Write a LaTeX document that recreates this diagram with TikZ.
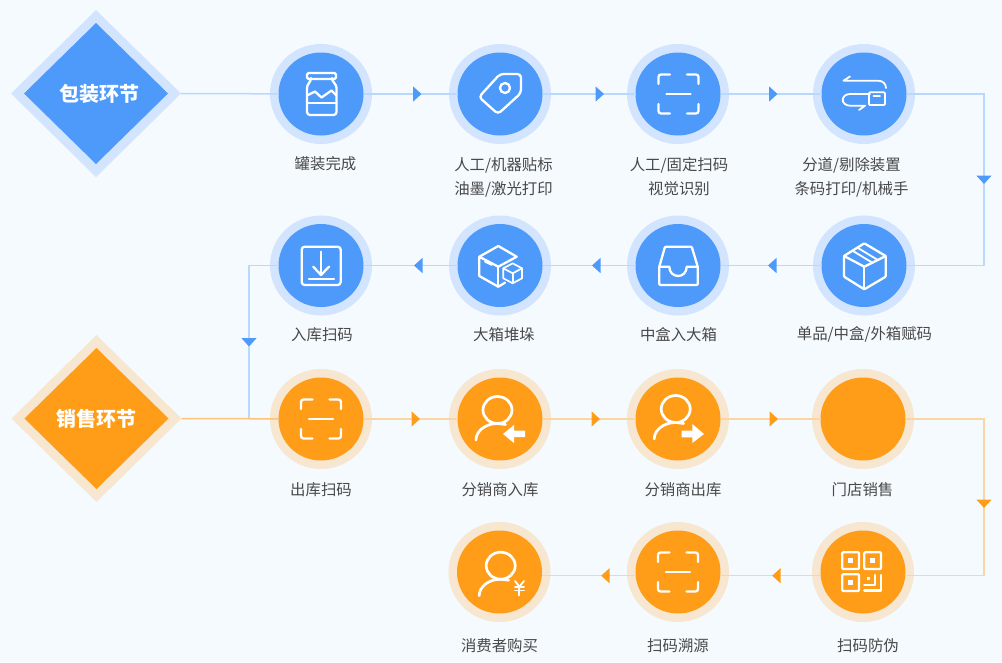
\documentclass[tikz,border=0pt]{standalone}
\usepackage{fontspec}
\setmainfont{Noto Sans CJK SC}
\usetikzlibrary{arrows.meta,shapes.geometric,decorations.markings}
\definecolor{pagebg}{HTML}{F5FAFF}
\definecolor{myblue}{HTML}{4D9AFB}
\definecolor{ringblue}{HTML}{D3E5FE}
\definecolor{lineblue}{HTML}{B9D8FE}
\definecolor{myorange}{HTML}{FF9D19}
\definecolor{ringorange}{HTML}{F7E6D0}
\definecolor{lineorange}{HTML}{FBD5A4}
\definecolor{textgray}{HTML}{484848}

\begin{document}
\begin{tikzpicture}[x=1pt,y=-1pt]
		\tikzset{bluedisc/.style={ellipse,fill=myblue,minimum width=85pt,minimum height=83pt,inner sep=0pt,outer sep=0pt,preaction={draw=ringblue,line width=17pt}}} %step circles
		\tikzset{orangedisc/.style={ellipse,fill=myorange,minimum width=85pt,minimum height=83pt,inner sep=0pt,outer sep=0pt,preaction={draw=ringorange,line width=17pt}}}
		\tikzset{phaseout/.style={diamond,aspect=1,inner sep=0pt,outer sep=0pt,minimum width=170pt,minimum height=167pt}} %phase diamonds
		\tikzset{phasein/.style={diamond,aspect=1,inner sep=0pt,outer sep=0pt,minimum width=144pt,minimum height=141pt,text=white,font=\fontsize{20}{24}\selectfont\bfseries}}
		\tikzset{steptext/.style={align=center,text=textgray,inner sep=0pt,font=\fontsize{15.4}{24}\selectfont}}
		\tikzset{blueline/.style={draw=lineblue,line width=1.5pt}}
		\tikzset{orangeline/.style={draw=lineorange,line width=1.5pt}}
		\tikzset{bluetip/.style={postaction={decorate,decoration={markings,mark=at position #1 with {\arrow{Triangle[length=8.5pt,width=15pt,color=myblue,fill=myblue]}}}}}}
		\tikzset{orangetip/.style={postaction={decorate,decoration={markings,mark=at position #1 with {\arrow{Triangle[length=8.5pt,width=15pt,color=myorange,fill=myorange]}}}}}}
		\tikzset{iconline/.style={draw=white,line width=2.3pt,line cap=round,line join=round}}
		\tikzset{scanicon/.pic={
			\draw[iconline,rounded corners=2.5pt] (-8.5,-19.5) -- (-20,-19.5) -- (-20,-10);
			\draw[iconline,rounded corners=2.5pt] (8.5,-19.5) -- (20,-19.5) -- (20,-10);
			\draw[iconline,rounded corners=2.5pt] (-8.5,19.5) -- (-20,19.5) -- (-20,10);
			\draw[iconline,rounded corners=2.5pt] (8.5,19.5) -- (20,19.5) -- (20,10);
			\draw[iconline] (-12,0) -- (12,0);
		}}
		\tikzset{personicon/.pic={
			\draw[iconline,line width=2.7pt] (0,0) circle[x radius=14.5,y radius=13.5];
			\draw[iconline,line width=2.7pt] (-21.5,30) .. controls (-21.5,21) and (-12,13.5) .. (0,13.5) -- (8,14.5);
		}}
		\fill[pagebg] (0,0) rectangle (1002,662); %background
		\useasboundingbox (0,0) rectangle (1002,662);

		\node[phaseout,fill=ringblue] (packring) at (96,93.5) {}; %packing phase
		\node[phasein,fill=myblue] (pack) at (96,93.5) {\hspace*{6pt}包装环节};
		\node[phaseout,fill=ringorange] (salering) at (96.5,418.5) {}; %sales phase
		\node[phasein,fill=myorange] (sale) at (96.5,418.5) {销售环节};

		\node[bluedisc] (jar) at (321,94) {}; %first row
		\node[bluedisc] (tag) at (500,94) {};
		\node[bluedisc] (scan) at (678,94) {};
		\node[bluedisc] (sort) at (864,94) {};
		\node[bluedisc] (box) at (864,265.5) {}; %second row
		\node[bluedisc] (inbox) at (678,265.5) {};
		\node[bluedisc] (stack) at (500,265.5) {};
		\node[bluedisc] (storein) at (321,265.5) {};
		\node[orangedisc] (storeout) at (321,419) {}; %third row
		\node[orangedisc] (agentin) at (500,419) {};
		\node[orangedisc] (agentout) at (678,419) {};
		\node[orangedisc] (shop) at (863,419) {};
		\node[orangedisc] (qrcheck) at (863,572) {}; %fourth row
		\node[orangedisc] (trace) at (678,572) {};
		\node[orangedisc] (buyer) at (499.5,572) {};

		\node[steptext] (jarlabel) at (325.5,163.5) {罐装完成};
		\node[steptext,anchor=north] (taglabel) at (503.5,157) {人工/机器贴标\\油墨/激光打印};
		\node[steptext,anchor=north] (scanlabel) at (679,157) {人工/固定扫码\\视觉识别};
		\node[steptext,anchor=north] (sortlabel) at (851.5,157) {分道/剔除装置\\条码打印/机械手};
		\node[steptext] (boxlabel) at (864.5,334.5) {单品/中盒/外箱赋码};
		\node[steptext] (inboxlabel) at (678.5,334.5) {中盒入大箱};
		\node[steptext] (stacklabel) at (504,334.5) {大箱堆垛};
		\node[steptext] (storeinlabel) at (322,334.5) {入库扫码};
		\node[steptext] (storeoutlabel) at (321,489.5) {出库扫码};
		\node[steptext] (agentinlabel) at (500,489.5) {分销商入库};
		\node[steptext] (agentoutlabel) at (683,489.5) {分销商出库};
		\node[steptext] (shoplabel) at (862.5,489.5) {门店销售};
		\node[steptext] (qrlabel) at (868,645.5) {扫码防伪};
		\node[steptext] (tracelabel) at (678,645.5) {扫码溯源};
		\node[steptext] (buyerlabel) at (499.5,645.5) {消费者购买};

		\coordinate (packturn) at (984,180); %corners of the flow
		\coordinate (storeturn) at (249,419);
		\coordinate (saleturn) at (984,500);

		\draw[blueline] (packring.east) -- (jar);
		\draw[blueline,bluetip=58pt] (jar) -- (tag);
		\draw[blueline,bluetip=61.5pt] (tag) -- (scan);
		\draw[blueline,bluetip=57pt] (scan) -- (sort);
		\draw[blueline,bluetip=167.5pt] (sort) -| (packturn) |- (box);
		\draw[blueline,bluetip=53.5pt] (box) -- (inbox);
		\draw[blueline,bluetip=43.5pt] (inbox) -- (stack);
		\draw[blueline,bluetip=43.5pt] (stack) -- (storein);
		\draw[blueline,bluetip=110.5pt] (storein) -| (storeturn);
		\draw[draw=lineorange!70!myorange,line width=1.5pt] (salering.east) -- (storeout);
		\draw[orangeline,orangetip=56.5pt] (storeout) -- (agentin);
		\draw[orangeline,orangetip=57.5pt] (agentin) -- (agentout);
		\draw[orangeline,orangetip=57.5pt] (agentout) -- (shop);
		\draw[orangeline,orangetip=167.5pt] (shop) -| (saleturn) |- (qrcheck.-5.5);
		\draw[orangeline,orangetip=48.5pt] (qrcheck.185.5) -- (trace.-5.5);
		\draw[orangeline,orangetip=34.5pt] (trace.185.5) -- (buyer.-5.5);

		\draw[iconline,rounded corners=1.5pt] (307,73) rectangle (336,79); %jar
		\draw[iconline,rounded corners=3pt] (311,79) -- (311,81) -- (307,85) -- (307,115) -- (336.5,115) -- (336.5,85) -- (332,81) -- (332,79);
		\draw[iconline] (307,103) -- (336.5,103);
		\draw[iconline] (308,95) -- (315,91.5) -- (321.5,97.5) -- (331.5,90.5) -- (336,95);

		\draw[iconline,rounded corners=3.5pt] (500,74) -- (521,74) -- (521,93) -- (498,114) -- (479,97) -- cycle; %tag
		\draw[iconline] (505,88) circle (5);

		\pic at (678.5,94) {scanicon};

		\draw[iconline,line width=1.8pt] (850,76.5) -- (843.5,80.7) -- (878,80.7) .. controls (883,80.7) and (886,84) .. (886,88); %sorting arrows
		\draw[iconline,line width=1.8pt] (870,94) -- (850,94) .. controls (846,94) and (842.7,96.5) .. (842.7,100) .. controls (842.7,103) and (846,105.7) .. (850,105.7) -- (865,105.7) -- (859,110);
		\draw[iconline,line width=1.8pt,rounded corners=1pt] (869,92.3) rectangle (885,105);
		\draw[iconline,line width=1.8pt] (873.5,95.7) -- (880,95.7);

		\draw[iconline,rounded corners=1pt] (844,256) -- (864.3,243.3) -- (885.7,256) -- (885.7,276.7) -- (864.3,289.3) -- (844,276.7) -- cycle; %box
		\draw[iconline] (844,256) -- (864.3,266.7) -- (885.7,256);
		\draw[iconline] (864.3,266.7) -- (864.3,289.3);
		\draw[iconline,line width=1.8pt] (858,248) -- (877,259.5);
		\draw[iconline,line width=1.8pt] (853,251) -- (872,262.5);

		\draw[iconline,rounded corners=1pt] (665,246.7) -- (691.7,246.7) -- (697.7,266.7) -- (697.7,285) -- (659.3,285) -- (659.3,266.7) -- cycle; %inbox
		\draw[iconline] (659.3,266.7) -- (669.3,266.7) .. controls (669.3,272) and (673,276) .. (678.3,276) .. controls (683,276) and (686.7,272) .. (686.7,266.7) -- (697.7,266.7);

		\draw[iconline] (505,282.7) -- (498.3,286.7) -- (479.3,276) -- (479.3,256.7) -- (498.3,246) -- (516.7,256.7) -- (498.3,266.7) -- (479.3,256.7); %stacked boxes
		\draw[iconline] (498.3,266.7) -- (498.3,286.7);
		\draw[iconline,line width=1.7pt] (485,261.7) -- (491.7,265);
		\draw[iconline,line width=1.7pt] (512.7,263.3) -- (522,268.3) -- (522,278.3) -- (512.7,283.3) -- (503.3,278.3) -- (503.3,268.3) -- cycle;
		\draw[iconline,line width=1.7pt] (503.3,268.3) -- (512.7,273.3) -- (522,268.3);
		\draw[iconline,line width=1.7pt] (512.7,273.3) -- (512.7,283.3);

		\draw[iconline,rounded corners=3pt] (301.7,246.7) rectangle (340.7,285); %download
		\draw[iconline] (321,251.7) -- (321,275);
		\draw[iconline] (313.3,266.7) -- (321,275) -- (329,266.7);
		\draw[iconline] (309,279.3) -- (334,279.3);

		\pic at (321,419) {scanicon};

		\pic at (497.5,410) {personicon}; %person with arrows
		\fill[white] (503,434) -- (514,425) -- (514,430.5) -- (525,430.5) -- (525,437) -- (514,437) -- (514,443) -- cycle;
		\pic at (675.7,409) {personicon};
		\fill[white] (681.7,430.7) -- (692.3,430.7) -- (692.3,424) -- (704,434) -- (692.3,443) -- (692.3,437.3) -- (681.7,437.3) -- cycle;

		\draw[iconline,rounded corners=1pt] (842.3,552.3) rectangle (859,569); %qr code
		\draw[iconline,rounded corners=1pt] (864.3,552.3) rectangle (881,569);
		\draw[iconline,rounded corners=1pt] (842.3,574.3) rectangle (859,591);
		\fill[white] (848.2,558.2) rectangle (853.2,563.2);
		\fill[white] (870.2,558.2) rectangle (875.2,563.2);
		\fill[white] (848.2,580.2) rectangle (853.2,585.2);
		\fill[white] (866.8,576.8) rectangle (870,580);
		\draw[iconline] (864.3,585) -- (875,585) -- (875,575);
		\draw[iconline] (864.3,590.5) -- (881,590.5) -- (881,575);

		\pic at (678,572) {scanicon};

		\pic at (500.7,565.7) {personicon}; %buyer
		\draw[iconline,line width=1.8pt] (515,581) -- (519.3,586.7) -- (524,581); %yuan sign
		\draw[iconline,line width=1.8pt] (515,586.7) -- (524,586.7);
		\draw[iconline,line width=1.8pt] (515,590.5) -- (524,590.5);
		\draw[iconline,line width=1.8pt] (519.3,586.7) -- (519.3,595.5);
\end{tikzpicture}
\end{document}
